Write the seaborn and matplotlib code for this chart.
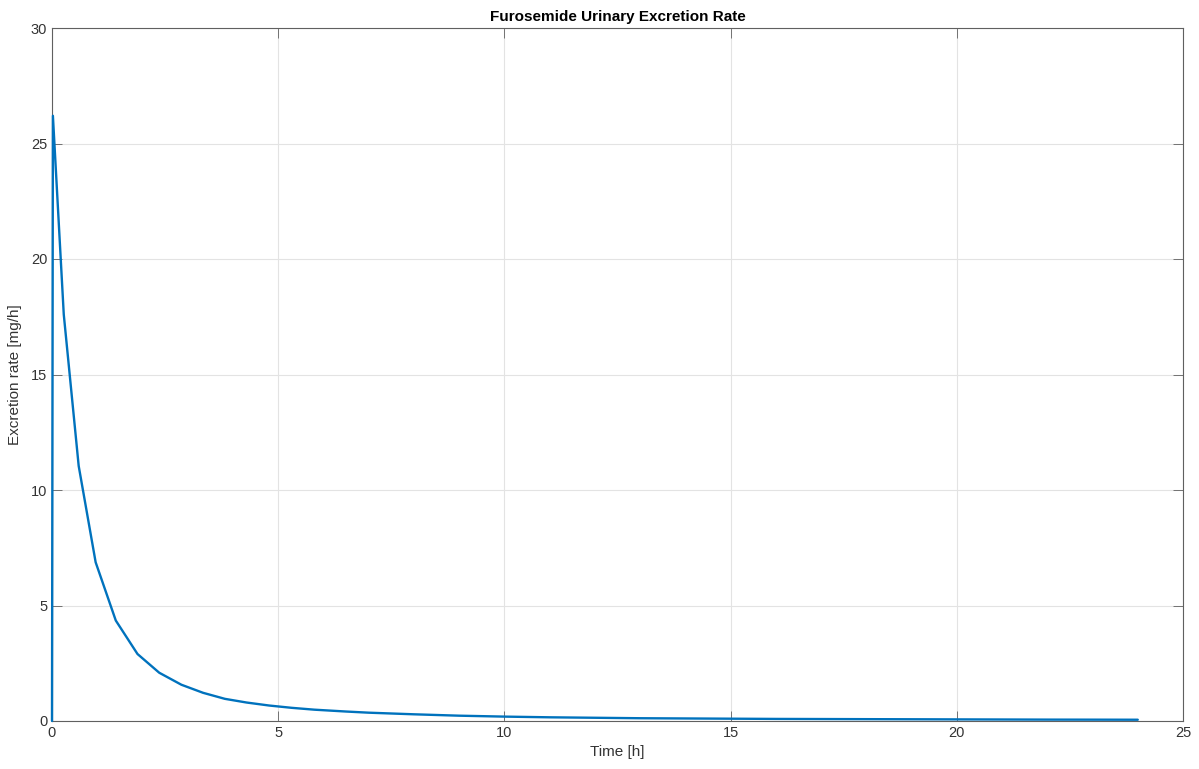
import matplotlib
matplotlib.use("Agg")
import matplotlib.pyplot as plt
import seaborn as sns
import pandas as pd

# Data
time_h = [0.0, 0.02, 0.26, 0.59, 0.965, 1.41, 1.89, 2.37, 2.86, 3.34, 3.82,
          4.3, 4.8, 5.3, 5.8, 6.5, 7.0, 8.0, 9.0, 10.0, 11.0, 12.0, 13.0,
          14.0, 15.0, 16.0, 17.0, 18.0, 19.0, 20.0, 21.0, 22.0, 23.0, 24.0]
rate_mg_h = [0.0, 26.2, 17.6, 11.04, 6.87, 4.35, 2.9, 2.09, 1.57, 1.22, 0.96,
             0.80, 0.67, 0.57, 0.49, 0.41, 0.36, 0.29, 0.23, 0.19, 0.16, 0.14, 0.12,
             0.11, 0.10, 0.09, 0.085, 0.08, 0.075, 0.07, 0.065, 0.06, 0.058, 0.055]
x_ticks = [0, 5, 10, 15, 20, 25]
y_ticks = [0, 5, 10, 15, 20, 25, 30]

df = pd.DataFrame({"t": time_h, "r": rate_mg_h})

sns.set_style("white")
plt.rcParams['font.family'] = ['Liberation Sans', 'DejaVu Sans']

fig = plt.figure(figsize=(11.99, 7.69), dpi=100)
ax = fig.add_axes([52/1199, 48/769, (1183-52)/1199, (721-28)/769])

sns.lineplot(data=df, x="t", y="r", ax=ax, color="#0072BD", linewidth=1.7,
             sort=False, estimator=None)
for ln in ax.lines:
    ln.set_zorder(5)
    ln.set_clip_on(False)

ax.set_xlim(0, 25)
ax.set_ylim(0, 30)
ax.set_xticks(x_ticks)
ax.set_yticks(y_ticks)
ax.grid(True, color="#e3e3e3", linewidth=0.8)
ax.set_axisbelow(True)
for s in ax.spines.values():
    s.set_color("#606060")
    s.set_linewidth(0.8)
    s.set_visible(True)
    s.set_zorder(2)
ax.tick_params(direction="in", length=7, width=0.6, colors="#606060",
               labelcolor="#333333", labelsize=10.5, top=True, right=True,
               bottom=True, left=True)
ax.set_xlabel("Time [h]", fontsize=11, color="#333333", labelpad=4)
ax.set_ylabel("Excretion rate [mg/h]", fontsize=11, color="#333333", labelpad=6)
ax.set_title("Furosemide Urinary Excretion Rate", fontsize=11, fontweight="bold",
             color="black", pad=5)

fig.savefig("out.png", dpi=100)
